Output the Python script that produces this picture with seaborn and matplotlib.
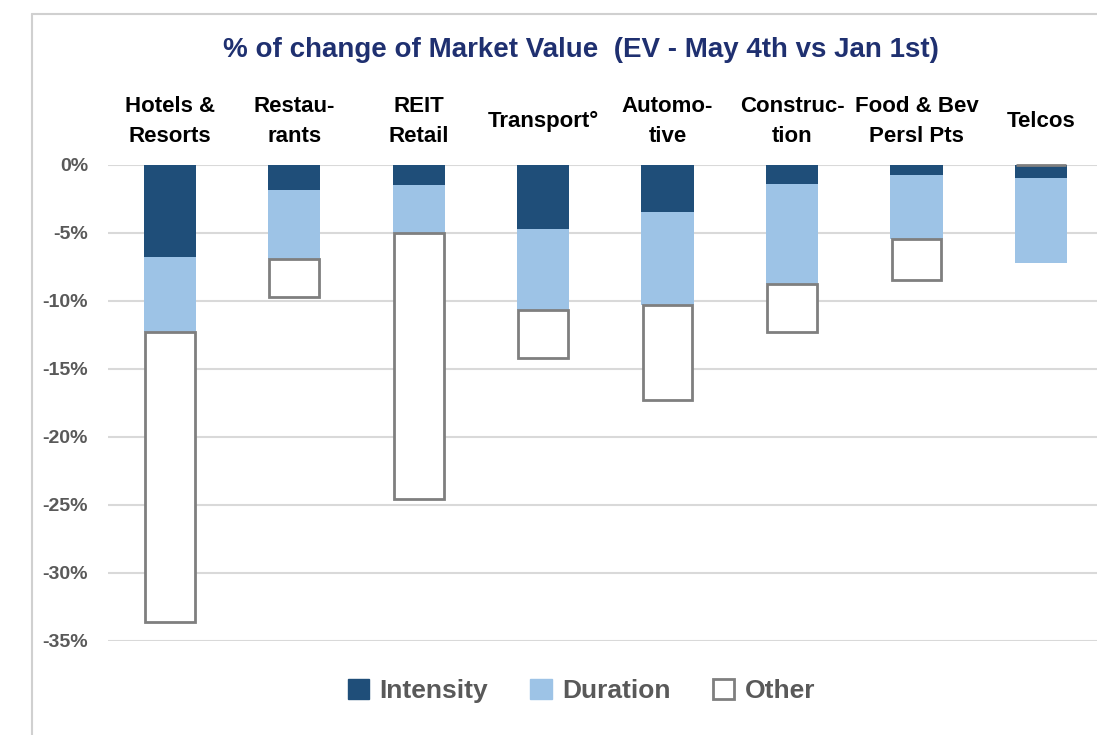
import numpy as np
import pandas as pd
import seaborn as sns
import matplotlib.pyplot as plt
from matplotlib.patches import Patch
from matplotlib.lines import Line2D

# values (% change, negative = drop)
sectors = ['Hotels &\nResorts', 'Restau-\nrants', 'REIT\nRetail', 'Transport°',
           'Automo-\ntive', 'Construc-\ntion', 'Food & Bev\nPersl Pts', 'Telcos']
intensity = [-6.8, -1.9, -1.5, -4.7, -3.5, -1.4, -0.75, -1.0]
duration = [-5.5, -5.0, -3.5, -6.0, -6.8, -7.4, -4.7, -6.2]
other = [-21.3, -2.85, -19.6, -3.5, -7.0, -3.5, -3.0, 0.0]
yticks = [0, -5, -10, -15, -20, -25, -30, -35]

sns.set_theme(style='white')
plt.rcParams['font.family'] = ['Liberation Sans Narrow', 'Liberation Sans', 'DejaVu Sans']
plt.rcParams['axes.unicode_minus'] = False

df = pd.DataFrame({'sector': sectors, 'intensity': intensity,
                   'duration': duration, 'other': other})
df['dur_base'] = df['intensity']
# a zero "other" sits on the 0% line, as in the source chart
df['oth_base'] = np.where(df['other'] < 0, df['intensity'] + df['duration'], 0)

fig = plt.figure(figsize=(10.97, 7.35), dpi=100)
ax = fig.add_axes([0.098, 0.128, 0.902, 0.648])

sns.barplot(data=df, x='sector', y='intensity', color='#1F4E79',
            width=0.42, saturation=1, ax=ax, linewidth=0)
sns.barplot(data=df, x='sector', y='duration', bottom=df['dur_base'],
            color='#9DC3E6', width=0.42, saturation=1, ax=ax, linewidth=0)
sns.barplot(data=df, x='sector', y='other', bottom=df['oth_base'],
            color='white', edgecolor='#7F7F7F', linewidth=2,
            width=0.4, saturation=1, ax=ax)
for p in ax.patches:
    p.set_clip_on(False)

ax.set_ylim(-35, 0)
ax.set_xlim(-0.5, 7.45)
ax.set_yticks(yticks)
ax.set_yticklabels([f'{v}%' for v in yticks], color='#595959', fontsize=14,
                   fontweight='bold')
ax.yaxis.grid(True, color='#D9D9D9', linewidth=1.5)
ax.set_axisbelow(True)
for s in ax.spines.values():
    s.set_visible(False)
ax.tick_params(axis='both', length=0)
ax.tick_params(axis='y', pad=14)

ax.xaxis.tick_top()
ax.set_xticks(range(len(sectors)))
ax.set_xticklabels(sectors, fontsize=16, fontweight='bold', color='black',
                   linespacing=1.55, va='center')
ax.tick_params(axis='x', pad=31)
ax.set_xlabel('')
ax.set_ylabel('')

fig.text(0.53, 0.932, '% of change of Market Value  (EV - May 4th vs Jan 1st)',
         ha='center', va='center', fontsize=20, fontweight='bold', color='#1F3070')

handles = [Patch(facecolor='#1F4E79', edgecolor='#1F4E79', label='Intensity'),
           Patch(facecolor='#9DC3E6', edgecolor='#9DC3E6', label='Duration'),
           Patch(facecolor='white', edgecolor='#7F7F7F', linewidth=2, label='Other')]
leg = fig.legend(handles=handles, loc='center', bbox_to_anchor=(0.53, 0.06),
                 ncol=3, frameon=False, fontsize=19, handlelength=0.8,
                 handleheight=0.8, handletextpad=0.4, columnspacing=1.6)
for t in leg.get_texts():
    t.set_color('#595959')
    t.set_fontweight('bold')

# chart frame (left and top edges)
fig.add_artist(Line2D([0.029, 0.029], [0.0, 0.981], color='#D0D0D0', linewidth=1.5,
                      transform=fig.transFigure))
fig.add_artist(Line2D([0.029, 1.0], [0.981, 0.981], color='#D0D0D0', linewidth=1.5,
                      transform=fig.transFigure))

fig.savefig('out.png', dpi=100)
